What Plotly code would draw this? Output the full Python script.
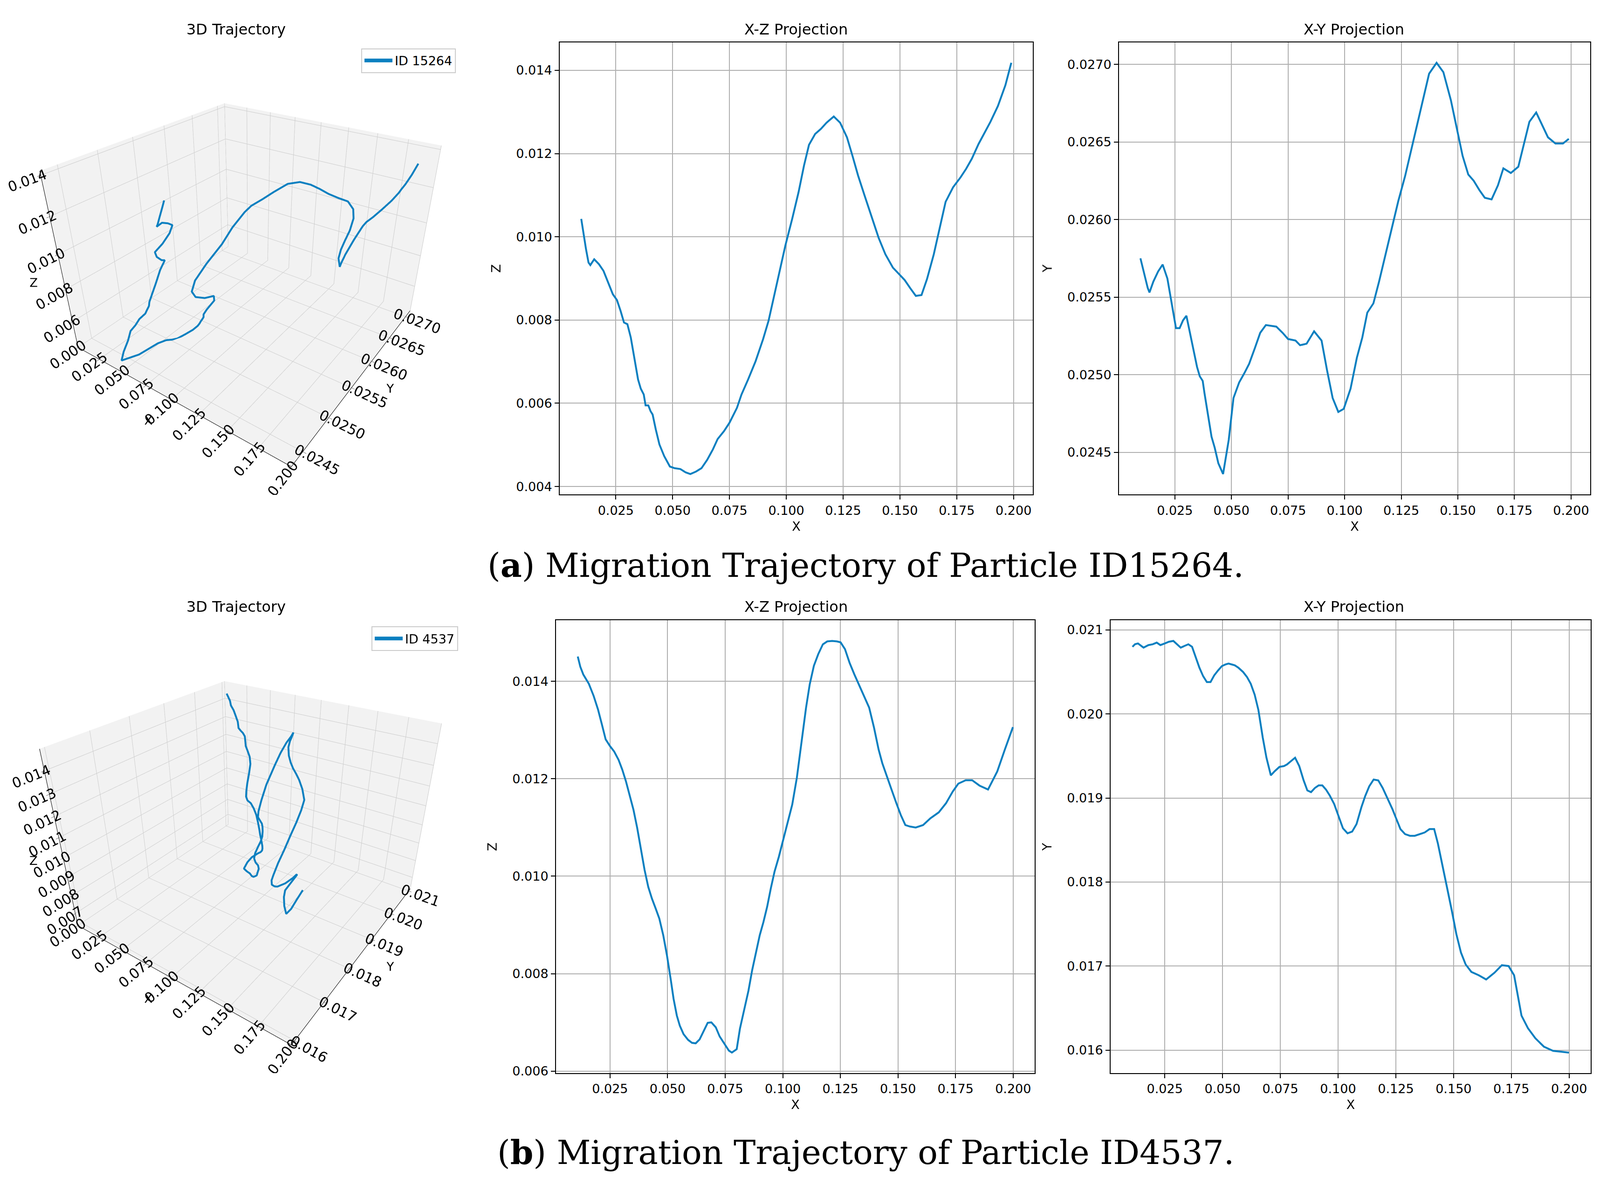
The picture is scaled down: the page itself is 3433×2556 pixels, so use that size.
import plotly.graph_objects as go

# particle ID15264
p1_x = [0.0098, 0.0106, 0.0119, 0.0130, 0.0138, 0.0155, 0.0176, 0.0196, 0.0217, 0.0237,
        0.0255, 0.0271, 0.0286, 0.0301, 0.0316, 0.0332, 0.0348, 0.0360, 0.0373, 0.0381,
        0.0393, 0.0403, 0.0412, 0.0426, 0.0442, 0.0463, 0.0488, 0.0509, 0.0534, 0.0557,
        0.0578, 0.0603, 0.0627, 0.0652, 0.0677, 0.0698, 0.0726, 0.0750, 0.0783, 0.0803,
        0.0832, 0.0865, 0.0898, 0.0922, 0.0947, 0.0972, 0.0996, 0.1026, 0.1054, 0.1078,
        0.1100, 0.1127, 0.1152, 0.1177, 0.1209, 0.1237, 0.1267, 0.1291, 0.1316, 0.1344,
        0.1373, 0.1406, 0.1436, 0.1469, 0.1497, 0.1521, 0.1546, 0.1570, 0.1595, 0.1619,
        0.1649, 0.1677, 0.1701, 0.1734, 0.1767, 0.1791, 0.1816, 0.1846, 0.1874, 0.1898,
        0.1931, 0.1964, 0.1990]
p1_z = [0.01043, 0.01014, 0.00970, 0.00938, 0.00932, 0.00946, 0.00934, 0.00918, 0.00890, 0.00862,
        0.00848, 0.00822, 0.00794, 0.00790, 0.00758, 0.00705, 0.00657, 0.00635, 0.00621, 0.00595,
        0.00595, 0.00581, 0.00573, 0.00537, 0.00501, 0.00473, 0.00448, 0.00444, 0.00442, 0.00434,
        0.00430, 0.00436, 0.00444, 0.00464, 0.00489, 0.00514, 0.00533, 0.00553, 0.00589, 0.00621,
        0.00657, 0.00701, 0.00754, 0.00798, 0.00858, 0.00918, 0.00979, 0.01043, 0.01107, 0.01171,
        0.01221, 0.01247, 0.01259, 0.01274, 0.01289, 0.01274, 0.01239, 0.01195, 0.01147, 0.01100,
        0.01051, 0.00998, 0.00958, 0.00926, 0.00910, 0.00896, 0.00876, 0.00858, 0.00860, 0.00898,
        0.00958, 0.01027, 0.01084, 0.01119, 0.01143, 0.01163, 0.01187, 0.01223, 0.01251, 0.01276,
        0.01314, 0.01364, 0.01418]
p1_y = [0.02575, 0.02570, 0.02562, 0.02556, 0.02553, 0.02560, 0.025665, 0.02571, 0.02562, 0.02546,
        0.02530, 0.02530, 0.02535, 0.02538, 0.02527, 0.02516, 0.02505, 0.02499, 0.02496, 0.02488,
        0.02477, 0.02469, 0.02460, 0.02453, 0.02443, 0.02436, 0.02458, 0.02485, 0.02495, 0.02501,
        0.02507, 0.02517, 0.02527, 0.02532, 0.025315, 0.02531, 0.02527, 0.02523, 0.02522, 0.02519,
        0.02520, 0.02528, 0.02522, 0.02503, 0.02485, 0.02476, 0.02478, 0.02491, 0.02511, 0.02524,
        0.02540, 0.02546, 0.02560, 0.02575, 0.02594, 0.02612, 0.02628, 0.02643, 0.02658, 0.02675,
        0.02694, 0.02701, 0.02695, 0.02677, 0.02657, 0.02641, 0.02629, 0.02625, 0.02619, 0.02614,
        0.02613, 0.02622, 0.02633, 0.02630, 0.02634, 0.02648, 0.02663, 0.02669, 0.02660, 0.02653,
        0.02649, 0.02649, 0.02652]

# particle ID4537
p2_x = [0.0110, 0.0121, 0.0134, 0.0158, 0.0179, 0.0198, 0.0215, 0.0231, 0.0250, 0.0268,
        0.0287, 0.0303, 0.0319, 0.0335, 0.0352, 0.0368, 0.0384, 0.0400, 0.0416, 0.0432,
        0.0448, 0.0464, 0.0481, 0.0497, 0.0513, 0.0526, 0.0540, 0.0553, 0.0569, 0.0589,
        0.0606, 0.0622, 0.0639, 0.0655, 0.0674, 0.0690, 0.0709, 0.0726, 0.0746, 0.0766,
        0.0779, 0.0800, 0.0814, 0.0832, 0.0851, 0.0867, 0.0883, 0.0900, 0.0916, 0.0932,
        0.0948, 0.0964, 0.0983, 0.1000, 0.1021, 0.1041, 0.1061, 0.1080, 0.1101, 0.1117,
        0.1135, 0.1154, 0.1174, 0.1193, 0.1214, 0.1235, 0.1251, 0.1270, 0.1290, 0.1311,
        0.1332, 0.1354, 0.1375, 0.1396, 0.1416, 0.1432, 0.1451, 0.1472, 0.1493, 0.1512,
        0.1532, 0.1552, 0.1577, 0.1609, 0.1641, 0.1677, 0.1709, 0.1738, 0.1762, 0.1794,
        0.1822, 0.1854, 0.1891, 0.1931, 0.1964, 0.1999]
p2_z = [0.01451, 0.01430, 0.01414, 0.01395, 0.01370, 0.01342, 0.01311, 0.01281, 0.01267, 0.01256,
        0.01239, 0.01219, 0.01195, 0.01167, 0.01136, 0.01099, 0.01054, 0.01013, 0.00978, 0.00954,
        0.00934, 0.00913, 0.00879, 0.00838, 0.00790, 0.00748, 0.00714, 0.00693, 0.00676, 0.00664,
        0.00658, 0.00657, 0.00665, 0.00681, 0.00699, 0.00700, 0.00690, 0.00671, 0.00656, 0.00642,
        0.00638, 0.00645, 0.00687, 0.00724, 0.00765, 0.00807, 0.00844, 0.00879, 0.00906, 0.00937,
        0.00975, 0.01009, 0.01040, 0.01071, 0.01109, 0.01147, 0.01202, 0.01270, 0.01346, 0.01394,
        0.01432, 0.01456, 0.01476, 0.01482, 0.01483, 0.01482, 0.01480, 0.01466, 0.01438, 0.01414,
        0.01392, 0.01370, 0.01346, 0.01305, 0.01260, 0.01232, 0.01205, 0.01178, 0.01150, 0.01126,
        0.01105, 0.01102, 0.01100, 0.01105, 0.01119, 0.01131, 0.01150, 0.01174, 0.01190, 0.01197,
        0.01197, 0.01186, 0.01178, 0.01215, 0.01260, 0.01306]
p2_y = [0.02080, 0.02083, 0.02084, 0.02079, 0.02082, 0.02083, 0.02085, 0.02082, 0.02084, 0.02086,
        0.02087, 0.02083, 0.02079, 0.02081, 0.02083, 0.02080, 0.02068, 0.02055, 0.02045, 0.02038,
        0.02038, 0.02046, 0.02052, 0.02057, 0.02059, 0.02060, 0.02059, 0.02058, 0.02055, 0.02050,
        0.02044, 0.02036, 0.02023, 0.02005, 0.01972, 0.01948, 0.01927, 0.01932, 0.01937, 0.01938,
        0.01940, 0.01945, 0.01948, 0.01938, 0.01921, 0.01909, 0.01907, 0.01912, 0.01915, 0.01915,
        0.01910, 0.01903, 0.01893, 0.01880, 0.01864, 0.01858, 0.01860, 0.01869, 0.01889, 0.01902,
        0.01914, 0.01922, 0.01921, 0.01912, 0.01900, 0.01887, 0.01876, 0.01863, 0.01857, 0.01855,
        0.01855, 0.01857, 0.01859, 0.01863, 0.01863, 0.01846, 0.01822, 0.01793, 0.01765, 0.01738,
        0.01716, 0.01702, 0.01693, 0.01689, 0.01684, 0.01692, 0.01701, 0.01700, 0.01689, 0.01641,
        0.01626, 0.01614, 0.01604, 0.01599, 0.01598, 0.01597]

W, H = 3433, 2556
LINE = "#0a7fc0"
FONT = "DejaVu Sans"


def pad_range(vals, frac=0.05):
    lo, hi = min(vals), max(vals)
    d = (hi - lo) * frac
    return [lo - d, hi + d]


fig = go.Figure()

rows = [
    dict(x=p1_x, y=p1_y, z=p1_z, name="ID 15264", legend="legend", scene="scene",
         xz=("x", "y"), xy=("x2", "y2"), zfmt=".3f", yfmt=".4f", zdt=0.002, ydt=0.0005,
         z3=[0.0043, 0.0142], y3=[0.0243, 0.02715]),
    dict(x=p2_x, y=p2_y, z=p2_z, name="ID 4537", legend="legend2", scene="scene2",
         xz=("x3", "y3"), xy=("x4", "y4"), zfmt=".3f", yfmt=".3f", zdt=0.001, ydt=0.001,
         z3=[0.0063, 0.0149], y3=[0.0159, 0.0211]),
]

for r in rows:
    fig.add_trace(go.Scatter3d(x=r["x"], y=r["y"], z=r["z"], mode="lines", name=r["name"],
                               line=dict(color=LINE, width=8), scene=r["scene"],
                               legend=r["legend"], showlegend=True))
    fig.add_trace(go.Scatter(x=r["x"], y=r["z"], mode="lines", xaxis=r["xz"][0], yaxis=r["xz"][1],
                             line=dict(color=LINE, width=4), showlegend=False))
    fig.add_trace(go.Scatter(x=r["x"], y=r["y"], mode="lines", xaxis=r["xy"][0], yaxis=r["xy"][1],
                             line=dict(color=LINE, width=4), showlegend=False))

tick_font = dict(family=FONT, size=27, color="black")
tick3d_font = dict(family=FONT, size=19, color="black")
title3d_font = dict(family=FONT, size=26, color="black")


def ax2d(domain, rng, dtick, fmt, title, anchor, standoff):
    return dict(domain=domain, range=rng, dtick=dtick, tickformat=fmt, anchor=anchor,
                showgrid=True, gridcolor="#b0b0b0", gridwidth=2, zeroline=False,
                showline=True, linecolor="black", linewidth=2, mirror=True,
                ticks="outside", ticklen=9, tickwidth=2, tickcolor="black",
                tickfont=tick_font, title=dict(text=title, font=tick_font, standoff=standoff))


def ax3d(rng, dtick, fmt, title):
    return dict(range=rng, dtick=dtick, tickformat=fmt, title=dict(text=title, font=title3d_font),
                tickfont=tick3d_font, showbackground=True, backgroundcolor="rgb(242,242,242)",
                gridcolor="rgb(205,205,205)", gridwidth=2, zeroline=False, showspikes=False,
                showline=True, linecolor="black", linewidth=2, ticks="outside", ticklen=6,
                tickcolor="black")


row_y = [[1 - 1058 / H, 1 - 83 / H], [1 - 2305 / H, 1 - 1329 / H]]
xz_x = [[1193 / W, 2208 / W], [1185 / W, 2212 / W]]
xy_x = [[2393 / W, 3404 / W], [2375 / W, 3405 / W]]

layout = {}
for i, r in enumerate(rows):
    xa, ya = r["xz"]
    xb, yb = r["xy"]
    kx = "xaxis" if xa == "x" else "xaxis" + xa[1:]
    ky = "yaxis" if ya == "y" else "yaxis" + ya[1:]
    layout[kx] = ax2d(xz_x[i], pad_range(r["x"]), 0.025, ".3f", "X", ya, 10)
    layout[ky] = ax2d(row_y[i], pad_range(r["z"]), 0.002, ".3f", "Z", xa, 25)
    layout["xaxis" + xb[1:]] = ax2d(xy_x[i], pad_range(r["x"]), 0.025, ".3f", "X", yb, 10)
    layout["yaxis" + yb[1:]] = ax2d(row_y[i], pad_range(r["y"]), r["ydt"], r["yfmt"], "Y", xb, 25)

    layout[r["scene"]] = dict(
        domain=dict(x=[0.0, 0.31], y=[row_y[i][0], row_y[i][1]]),
        xaxis=ax3d([0, 0.2], 0.025, ".3f", "X"),
        yaxis=ax3d(r["y3"], r["ydt"], r["yfmt"], "Y"),
        zaxis=ax3d(r["z3"], r["zdt"], r["zfmt"], "Z"),
        aspectmode="manual", aspectratio=dict(x=1, y=1, z=0.75),
        camera=dict(eye=dict(x=1.04, y=-1.49, z=1.05), center=dict(x=0, y=0, z=-0.08)),
        bgcolor="white",
    )

for key, lx, ly in (("legend", 970, 96), ("legend2", 975, 1342)):
    layout[key] = dict(x=lx / W, y=1 - ly / H, xanchor="right", yanchor="top",
                       bgcolor="white", bordercolor="#cccccc", borderwidth=2, itemwidth=60,
                       font=dict(family=FONT, size=27, color="black"))

fig.update_layout(width=W, height=H, margin=dict(l=0, r=0, t=0, b=0),
                  paper_bgcolor="white", plot_bgcolor="white", **layout)

title_font = dict(family=FONT, size=32, color="black")
titles = [("3D Trajectory", 499), ("X-Z Projection", 1700), ("X-Y Projection", 2897)]
for ty in (55, 1300):
    for text, tx in titles:
        fig.add_annotation(x=tx / W, y=1 - ty / H, xref="paper", yref="paper", text=text,
                           showarrow=False, font=title_font, xanchor="center", yanchor="middle")

cap_font = dict(family="DejaVu Serif", size=71, color="black")
captions = [("(<b>a</b>) Migration Trajectory of Particle ID15264.", 1210),
            ("(<b>b</b>) Migration Trajectory of Particle ID4537.", 2476)]
for text, cy in captions:
    fig.add_annotation(x=1850 / W, y=1 - cy / H, xref="paper", yref="paper", text=text,
                       showarrow=False, font=cap_font, xanchor="center", yanchor="middle")

fig.write_html("out.html")
